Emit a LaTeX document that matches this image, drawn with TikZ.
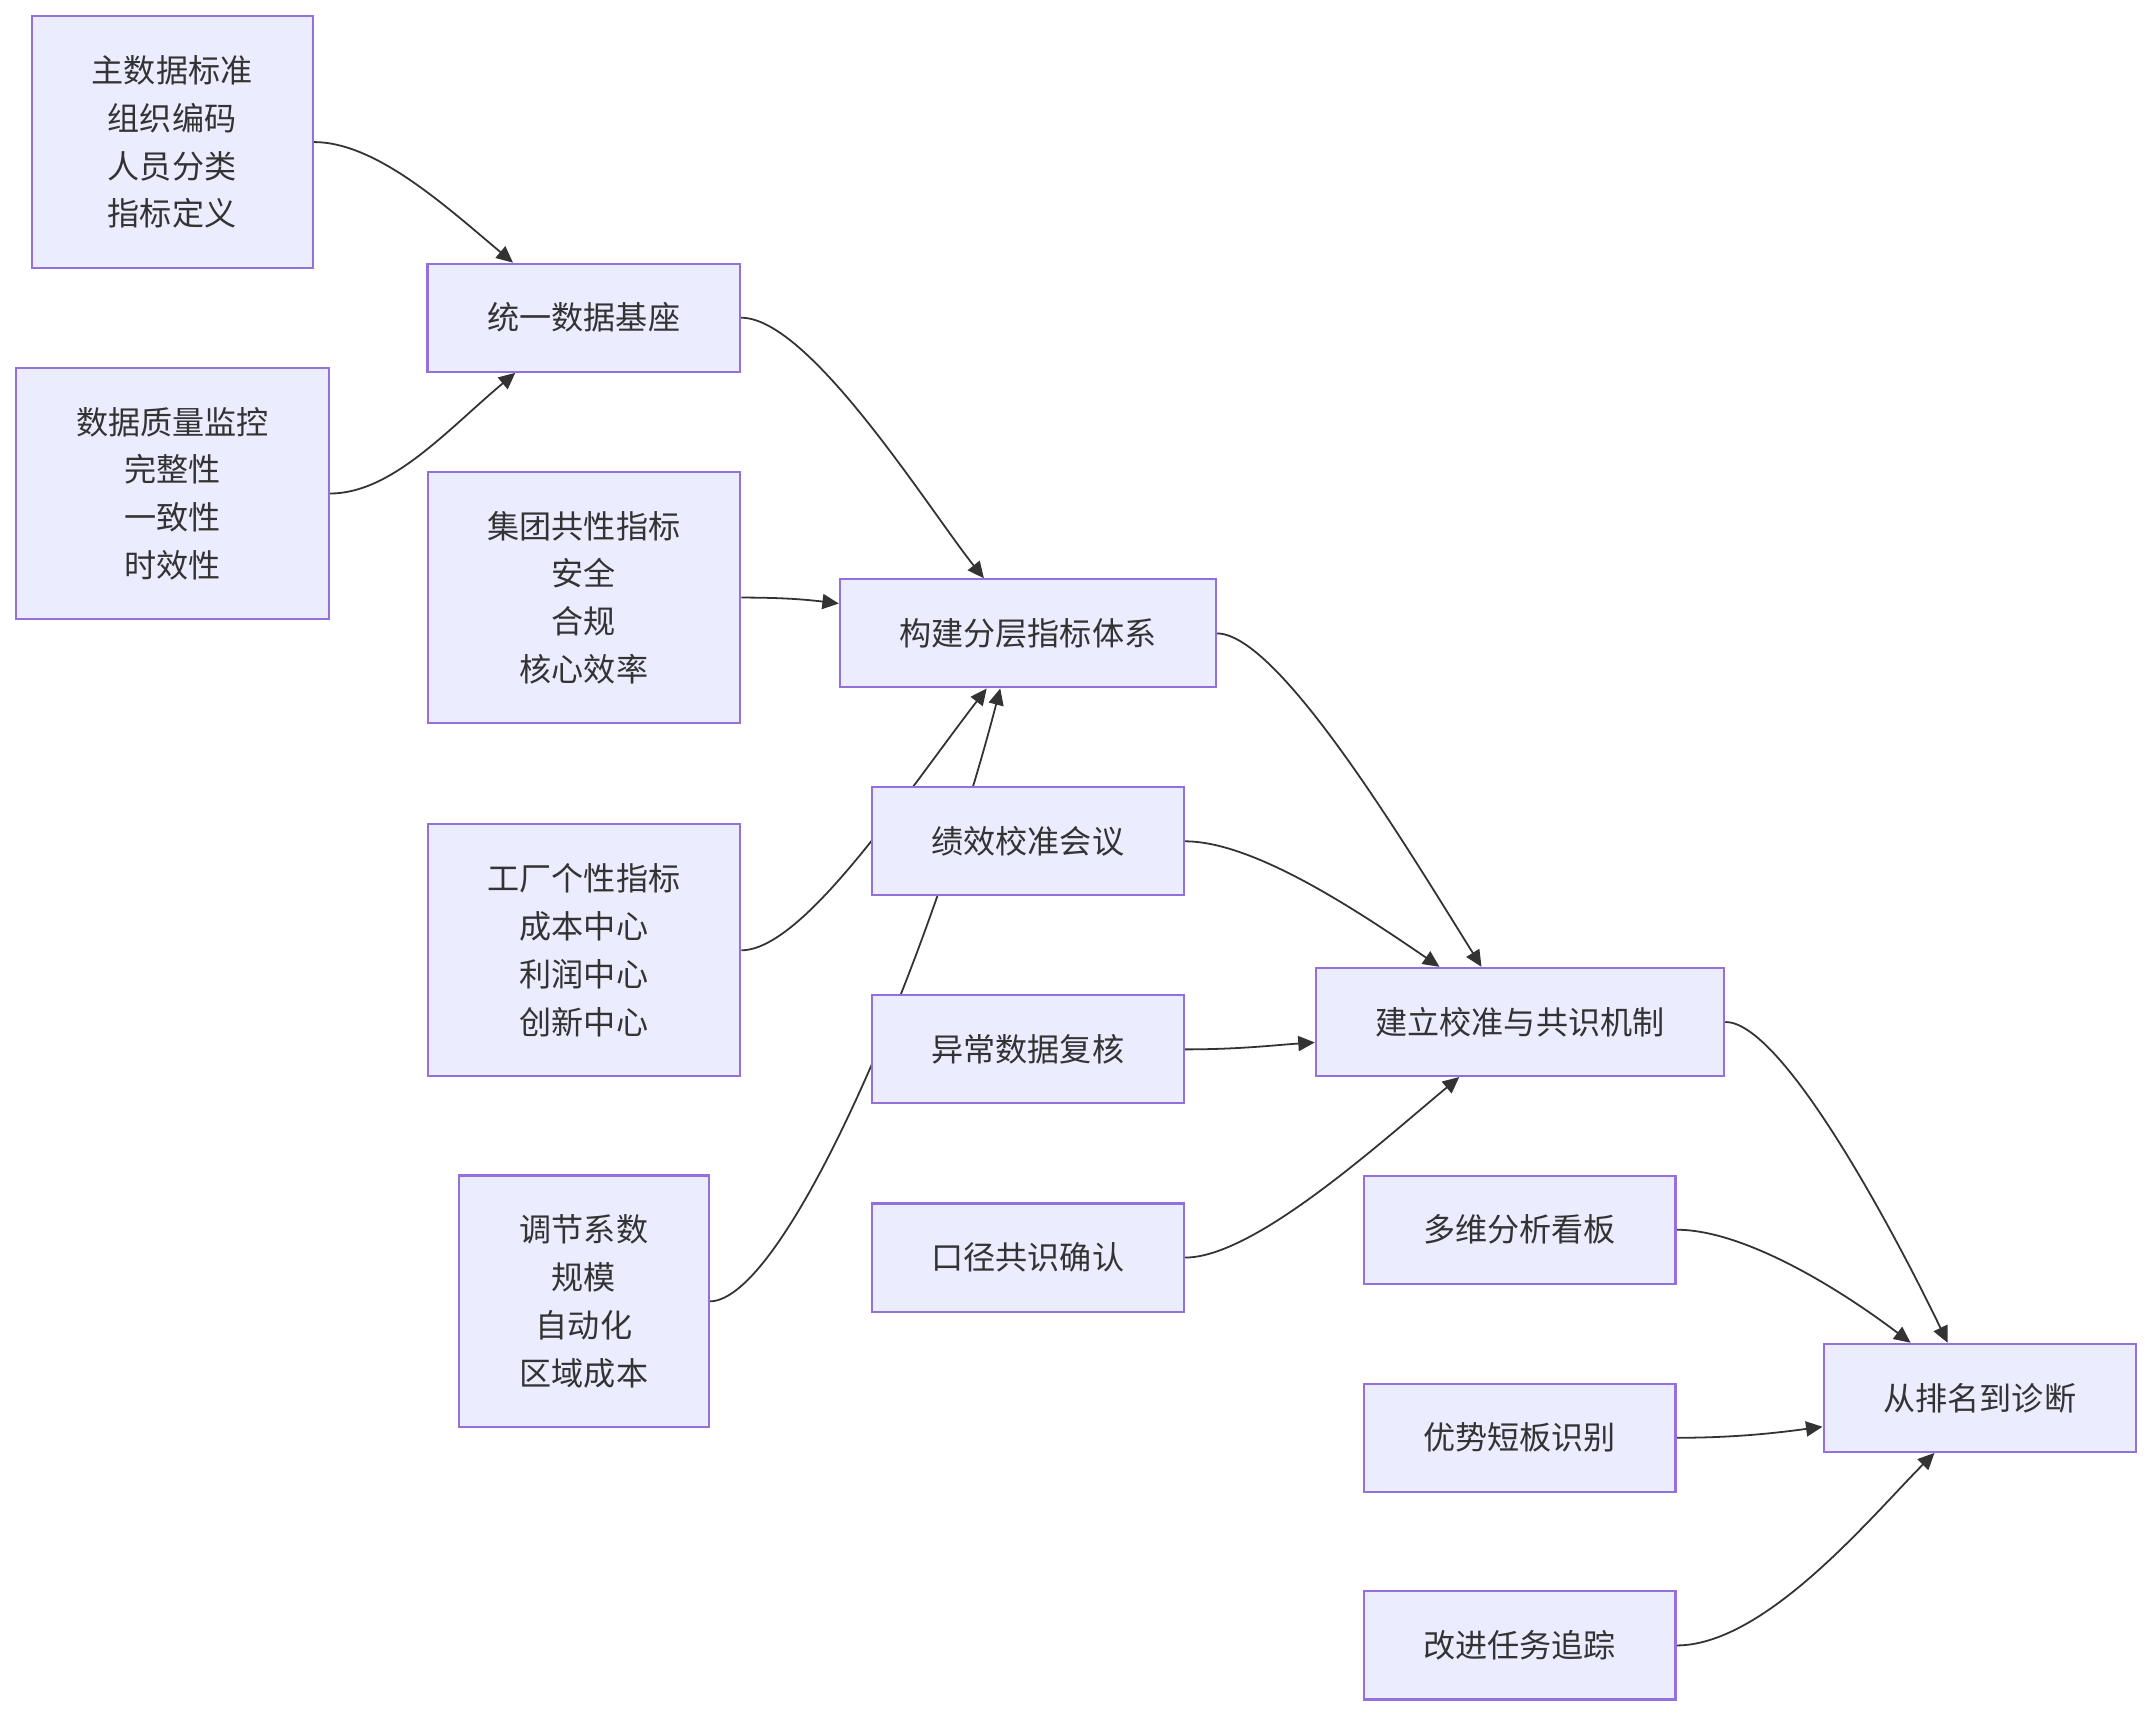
\documentclass[tikz,border=0pt]{standalone}
\usepackage{fontspec}
\setmainfont{Noto Sans CJK SC}
\usetikzlibrary{arrows.meta,calc}
\definecolor{nodefill}{HTML}{ECECFF}
\definecolor{nodeline}{HTML}{9370DB}
\definecolor{edgecol}{HTML}{333333}
\definecolor{txt}{HTML}{333333}
\pgfdeclarelayer{bg}
\pgfsetlayers{bg,main}
\tikzset{
  box/.style={rectangle, draw=nodeline, fill=nodefill, line width=1.5pt, inner sep=0pt,
    text=txt, align=center, font=\fontsize{23.4}{34.8}\selectfont},
  onebox/.style={box, minimum height=78.8pt},
  fourbox/.style={box, minimum height=183.4pt},
  arr/.style={draw=edgecol, line width=1.3pt, -{Triangle[length=12pt,width=11pt]}},
}
\begin{document}
\begin{tikzpicture}[x=1pt,y=-1pt]
\useasboundingbox (0,0) rectangle (1568,1250);
\begin{pgfonlayer}{bg}
\fill[white] (0,0) rectangle (1568,1250);
\end{pgfonlayer}

\node[fourbox, minimum width=204.8pt] (A) at (125.4,103.5) {主数据标准\\组织编码\\人员分类\\指标定义};
\node[fourbox, minimum width=227.8pt] (B) at (125.6,359.6) {数据质量监控\\完整性\\一致性\\时效性};
\node[onebox, minimum width=227.8pt] (C) at (425.4,231.5) {统一数据基座};
\node[fourbox, minimum width=227.8pt] (D) at (425.5,435.4) {集团共性指标\\安全\\合规\\核心效率};
\node[fourbox, minimum width=227.8pt] (E) at (425.5,692.4) {工厂个性指标\\成本中心\\利润中心\\创新中心};
\node[fourbox, minimum width=181.6pt] (F) at (425.5,948.2) {调节系数\\规模\\自动化\\区域成本};
\node[onebox, minimum width=273.9pt] (G) at (748.9,461.5) {构建分层指标体系};
\node[onebox, minimum width=227.5pt] (H) at (748.9,613) {绩效校准会议};
\node[onebox, minimum width=227.5pt] (I) at (748.9,764.6) {异常数据复核};
\node[onebox, minimum width=227.5pt] (J) at (748.9,916.3) {口径共识确认};
\node[onebox, minimum width=297.6pt] (K) at (1107.5,744.6) {建立校准与共识机制};
\node[onebox, minimum width=227.2pt] (L) at (1107.2,896) {多维分析看板};
\node[onebox, minimum width=227.2pt] (M) at (1107.2,1047.6) {优势短板识别};
\node[onebox, minimum width=227.2pt] (N) at (1107.2,1198.9) {改进任务追踪};
\node[onebox, minimum width=227.7pt] (O) at (1442.5,1018.5) {从排名到诊断};

\begin{pgfonlayer}{bg}
\draw[arr] (A.east) .. controls +(45,0) and +(-50,-42) .. ($(C.north west)+(63,0)$);
\draw[arr] (B.east) .. controls +(45,0) and +(-50,42) .. ($(C.south west)+(64.7,0)$);
\draw[arr] (C.east) .. controls +(50,0) and +(-40,-50) .. ($(G.north west)+(105.7,0)$);
\draw[arr] (D.east) .. controls +(30,0) and +(-25,-3) .. ($(G.north west)+(0,18.4)$);
\draw[arr] (E.east) .. controls +(45,0) and +(-60,78) .. ($(G.south west)+(107.7,0)$);
\draw[arr] (F.east) .. controls +(55,0) and +(-52,200) .. ($(G.south west)+(117.6,0)$);
\draw[arr] (G.east) .. controls +(45,0) and +(-55,-88) .. ($(K.north west)+(121.5,0)$);
\draw[arr] (H.east) .. controls +(50,0) and +(-60,-41) .. ($(K.north west)+(90.9,0)$);
\draw[arr] (I.east) .. controls +(40,0) and +(-30,2) .. ($(K.north west)+(0,55.1)$);
\draw[arr] (J.east) .. controls +(50,0) and +(-60,50) .. ($(K.south west)+(105.3,0)$);
\draw[arr] (K.east) .. controls +(40,0) and +(-45,-93) .. ($(O.north west)+(91.2,0)$);
\draw[arr] (L.east) .. controls +(50,0) and +(-50,-38) .. ($(O.north west)+(64.2,0)$);
\draw[arr] (M.east) .. controls +(45,0) and +(-30,4) .. ($(O.north west)+(0,61.2)$);
\draw[arr] (N.east) .. controls +(65,0) and +(-45,45) .. ($(O.south west)+(81.6,0)$);
\end{pgfonlayer}
\end{tikzpicture}
\end{document}
